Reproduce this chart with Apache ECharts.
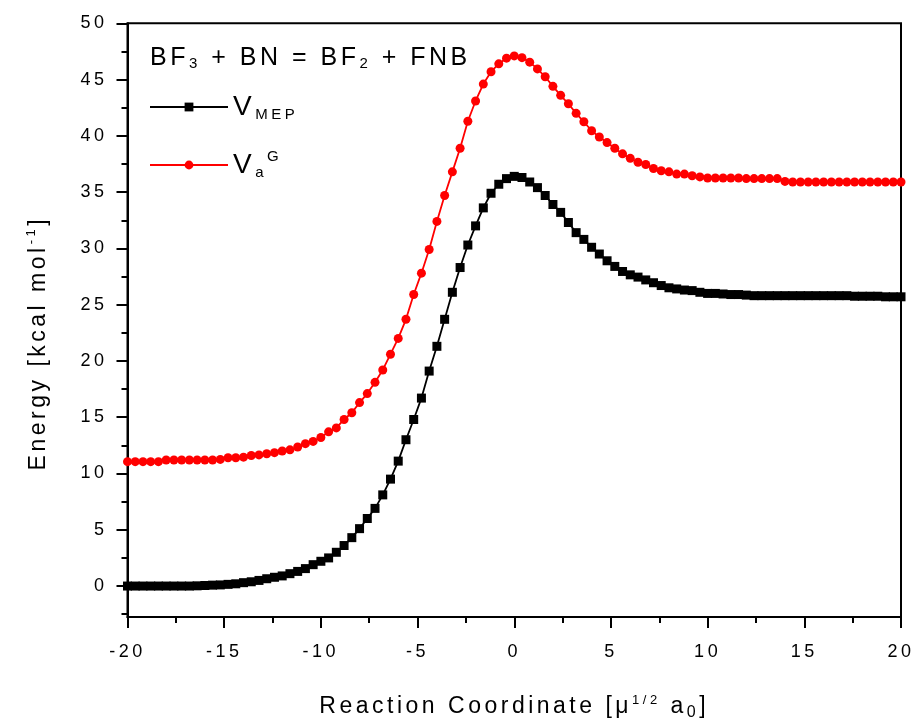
<!DOCTYPE html>
<html>
<head>
<meta charset="utf-8">
<script src="https://cdn.jsdelivr.net/npm/echarts@6/dist/echarts.min.js"></script>
<style>
html,body{margin:0;padding:0;background:#fff;}
#demo{width:919px;height:727px;}
</style>
</head>
<body>
<div id="demo"></div>
<script>
// reaction coordinate, step 0.4
var coord = [-20,-19.6,-19.2,-18.8,-18.4,-18,-17.6,-17.2,-16.8,-16.4,
    -16,-15.6,-15.2,-14.8,-14.4,-14,-13.6,-13.2,-12.8,-12.4,
    -12,-11.6,-11.2,-10.8,-10.4,-10,-9.6,-9.2,-8.8,-8.4,
    -8,-7.6,-7.2,-6.8,-6.4,-6,-5.6,-5.2,-4.8,-4.4,
    -4,-3.6,-3.2,-2.8,-2.4,-2,-1.6,-1.2,-0.8,-0.4,
    0,0.4,0.8,1.2,1.6,2,2.4,2.8,3.2,3.6,
    4,4.4,4.8,5.2,5.6,6,6.4,6.8,7.2,7.6,
    8,8.4,8.8,9.2,9.6,10,10.4,10.8,11.2,11.6,
    12,12.4,12.8,13.2,13.6,14,14.4,14.8,15.2,15.6,
    16,16.4,16.8,17.2,17.6,18,18.4,18.8,19.2,19.6,
    20];
var vMep = [0,0,0,0,0,0,0,0,0,0.02,
    0.05,0.08,0.1,0.15,0.2,0.3,0.38,0.5,0.65,0.78,
    0.9,1.1,1.3,1.55,1.9,2.2,2.5,3.0,3.6,4.3,
    5.1,6.0,6.9,8.1,9.5,11.1,13.0,14.8,16.7,19.1,
    21.3,23.7,26.1,28.3,30.3,32.0,33.6,34.9,35.7,36.2,
    36.4,36.3,35.9,35.4,34.7,33.9,33.2,32.3,31.4,30.8,
    30.1,29.5,28.9,28.4,27.95,27.65,27.45,27.2,26.95,26.7,
    26.5,26.4,26.3,26.25,26.1,26.0,26.0,25.95,25.9,25.9,
    25.85,25.8,25.8,25.8,25.8,25.8,25.8,25.8,25.8,25.8,
    25.8,25.8,25.8,25.8,25.75,25.75,25.75,25.75,25.7,25.7,
    25.7];
var vaG = [11.05,11.05,11.05,11.05,11.05,11.2,11.2,11.2,11.2,11.2,
    11.2,11.2,11.25,11.4,11.4,11.45,11.6,11.65,11.75,11.85,
    12.0,12.1,12.35,12.65,12.85,13.2,13.7,14.05,14.8,15.4,
    16.3,17.1,18.1,19.2,20.6,22.0,23.7,25.9,27.8,29.9,
    32.4,34.7,36.8,38.9,41.3,43.1,44.6,45.7,46.4,46.9,
    47.1,46.95,46.55,45.95,45.25,44.4,43.6,42.85,42.0,41.25,
    40.45,39.9,39.4,38.9,38.4,38.0,37.65,37.45,37.1,36.9,
    36.8,36.6,36.6,36.45,36.35,36.25,36.25,36.25,36.25,36.25,
    36.2,36.2,36.2,36.2,36.2,35.95,35.9,35.9,35.9,35.9,
    35.9,35.9,35.9,35.9,35.9,35.9,35.9,35.9,35.9,35.9,
    35.9];
var yMajor = [0,5,10,15,20,25,30,35,40,45,50];
var yMinor = [-2.5,2.5,7.5,12.5,17.5,22.5,27.5,32.5,37.5,42.5,47.5];

function pairs(xs, ys) {
    var out = [];
    for (var i = 0; i < xs.length; i++) out.push([xs[i], ys[i]]);
    return out;
}

// the original uses wide letter tracking; measure and draw with the same spacing
var tracking = '3.5px';
var measureCtx = document.createElement('canvas').getContext('2d');
measureCtx.letterSpacing = tracking;
echarts.setPlatformAPI({
    measureText: function (text, font) {
        measureCtx.font = font || '12px sans-serif';
        return measureCtx.measureText(text);
    }
});

var font = 'Liberation Sans, Arial, sans-serif';
var subSup = {
    sub: {fontSize: 15, lineHeight: 6, verticalAlign: 'bottom', fontFamily: font, color: '#000'},
    sup: {fontSize: 15, lineHeight: 12, verticalAlign: 'top', fontFamily: font, color: '#000'}
};

var option = {
    animation: false,
    backgroundColor: '#fff',
    title: {
        text: 'BF{sub|3} + BN = BF{sub|2} + FNB',
        left: 145, top: 38,
        textStyle: {
            fontFamily: font, fontSize: 25, fontWeight: 'normal', color: '#000', lineHeight: 30,
            rich: {sub: {fontSize: 15, lineHeight: 3, verticalAlign: 'bottom', fontFamily: font, color: '#000'}}
        }
    },
    legend: [{
        data: ['V_MEP'],
        left: 144, top: 85,
        itemWidth: 78, itemHeight: 11,
        formatter: function () { return 'V{sub|MEP}'; },
        textStyle: {fontFamily: font, fontSize: 28, color: '#000', lineHeight: 34, rich: subSup}
    }, {
        data: ['V_aG'],
        left: 144, top: 143,
        itemWidth: 78, itemHeight: 11,
        formatter: function () { return 'V{sub|a}{sup|G}'; },
        textStyle: {fontFamily: font, fontSize: 28, color: '#000', lineHeight: 34, rich: subSup}
    }],
    grid: {
        left: 127.5, right: 18, top: 23.3, bottom: 109.3,
        show: true, borderColor: '#000', borderWidth: 2
    },
    xAxis: {
        type: 'value', min: -20, max: 20, interval: 5,
        name: 'Reaction Coordinate [\u03bc{sup|1/2} a{sub|0}]',
        nameLocation: 'middle', nameGap: 75,
        nameTextStyle: {
            fontFamily: font, fontSize: 23, color: '#000', lineHeight: 30,
            rich: {
                sup: {fontSize: 13, lineHeight: 10, verticalAlign: 'top', fontFamily: font, color: '#000'},
                sub: {fontSize: 16, lineHeight: 4, verticalAlign: 'bottom', fontFamily: font, color: '#000'}
            }
        },
        axisLine: {onZero: false, lineStyle: {color: '#000', width: 2}},
        axisTick: {inside: false, length: 11, lineStyle: {color: '#000', width: 2}},
        minorTick: {show: true, splitNumber: 2, length: 6, lineStyle: {color: '#000', width: 2}},
        axisLabel: {fontFamily: font, fontSize: 18, color: '#000', margin: 24},
        splitLine: {show: false}
    },
    yAxis: [{
        type: 'value', min: -2.75, max: 50,
        name: 'Energy [kcal mol{sup|-1}]',
        nameLocation: 'middle', nameGap: 74,
        nameTextStyle: {
            fontFamily: font, fontSize: 23, color: '#000', lineHeight: 30,
            padding: [0, 46, 0, 0],
            rich: {sup: {fontSize: 13, lineHeight: 8, verticalAlign: 'top', fontFamily: font, color: '#000'}}
        },
        axisLine: {onZero: false, lineStyle: {color: '#000', width: 2}},
        axisTick: {inside: false, length: 11, customValues: yMajor, lineStyle: {color: '#000', width: 2}},
        axisLabel: {fontFamily: font, fontSize: 18, color: '#000', margin: 20, customValues: yMajor},
        splitLine: {show: false}
    }, {
        type: 'value', min: -2.75, max: 50, position: 'left',
        axisLine: {show: false, onZero: false},
        axisTick: {inside: false, length: 6, customValues: yMinor, lineStyle: {color: '#000', width: 2}},
        axisLabel: {show: false},
        splitLine: {show: false}
    }],
    series: [{
        name: 'V_MEP', type: 'line', data: pairs(coord, vMep),
        symbol: 'rect', symbolSize: 9,
        lineStyle: {color: '#000', width: 1.8},
        itemStyle: {color: '#000'}
    }, {
        name: 'V_aG', type: 'line', data: pairs(coord, vaG),
        symbol: 'circle', symbolSize: 9,
        lineStyle: {color: '#ff0000', width: 1.8},
        itemStyle: {color: '#ff0000'}
    }]
};

var myChart = echarts.init(document.getElementById('demo'));
myChart.setOption(option);
// canvas exists only after the first render; set tracking and draw again
var cv = myChart.getDom().querySelector('canvas');
if (cv) {
    cv.getContext('2d').letterSpacing = tracking;
    myChart.setOption(option, true);
}
</script>
</body>
</html>
